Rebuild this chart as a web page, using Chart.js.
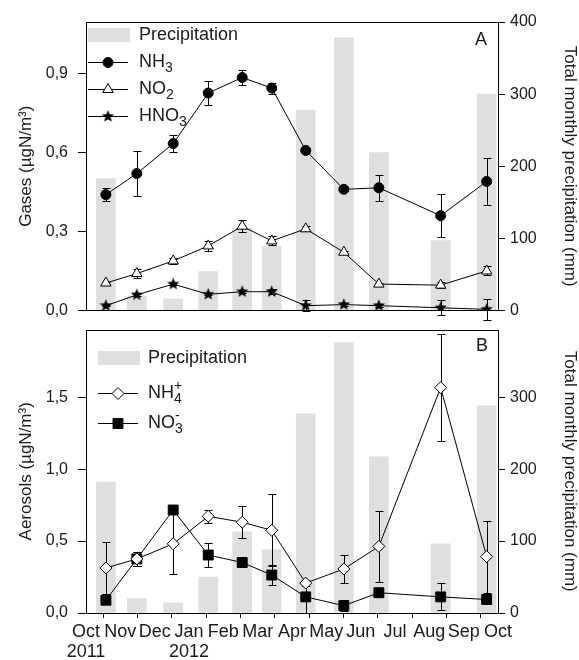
<!DOCTYPE html>
<html>
<head>
<meta charset="utf-8">
<script src="https://cdn.jsdelivr.net/npm/chart.js"></script>
<style>
  html, body { margin: 0; padding: 0; background: #fff; }
  #wrap { position: relative; width: 579px; height: 660px; }
  canvas { position: absolute; left: 0; }
  #chartA { top: 0; }
  #chartB { top: 310px; }
</style>
</head>
<body>
<div id="wrap">
  <canvas id="chartA" width="579" height="330"></canvas>
  <canvas id="chartB" width="579" height="350"></canvas>
</div>
<script>
// sampling dates, months after 1 Oct 2011
const sampleMonths = [0.58, 1.48, 2.54, 3.56, 4.55, 5.41, 6.40, 7.51, 8.53, 10.33, 11.67];
const monthLabels = ["Oct", "Nov", "Dec", "Jan", "Feb", "Mar", "Apr", "May", "Jun", "Jul", "Aug", "Sep", "Oct"];
const yearLabels = { 0: "2011", 3: "2012" };
const precipTicks = [0, 100, 200, 300, 400];

// total monthly precipitation (mm), as drawn in each panel
const precipA = [183, 20, 16, 54, 114, 89, 278, 378, 219, 97, 300];
const precipB = [182, 20, 14, 50, 113, 88, 277, 376, 217, 96, 288];

// gases (µgN/m3)
const nh3 = [0.44, 0.52, 0.634, 0.826, 0.885, 0.845, 0.608, 0.46, 0.466, 0.36, 0.49];
const nh3Err = [0.025, 0.086, 0.033, 0.044, 0.027, 0.021, 0.008, 0.008, 0.049, 0.082, 0.09];
const no2 = [0.104, 0.14, 0.188, 0.245, 0.32, 0.264, 0.31, 0.221, 0.1, 0.096, 0.15];
const no2Err = [0.004, 0.018, 0.01, 0.02, 0.023, 0.017, 0.01, 0.006, 0.006, 0.012, 0.017];
const hno3 = [0.018, 0.059, 0.1, 0.061, 0.071, 0.071, 0.018, 0.022, 0.018, 0.01, 0.004];
const hno3Err = [0.003, 0.005, 0.005, 0.004, 0.005, 0.01, 0.02, 0.005, 0.005, 0.028, 0.04];

// aerosols (µgN/m3)
const nh4 = [0.313, 0.376, 0.481, 0.672, 0.631, 0.575, 0.208, 0.306, 0.463, 1.567, 0.392];
const nh4Err = [0.18, 0.05, 0.21, 0.047, 0.113, 0.25, 0.02, 0.1, 0.246, 0.37, 0.25];
const no3 = [0.089, 0.376, 0.716, 0.403, 0.351, 0.264, 0.112, 0.051, 0.141, 0.112, 0.094];
const no3Err = [0.01, 0.05, 0.01, 0.082, 0.01, 0.067, 0.11, 0.04, 0.01, 0.094, 0.01];

const FONT = "'Liberation Sans', Arial, sans-serif";
const INK = "#1a1a1a";
const BAR_GRAY = "#dfdfdf";

Chart.defaults.font.family = FONT;
Chart.defaults.color = INK;

function pts(values) {
    return sampleMonths.map((x, i) => ({ x: x, y: values[i] }));
}

// filled five-point star used as a point image
function makeStar(r) {
    const c = document.createElement("canvas");
    c.width = c.height = Math.ceil(r * 2) + 2;
    const g = c.getContext("2d");
    const cx = c.width / 2, cy = c.height / 2;
    g.beginPath();
    for (let k = 0; k < 10; k++) {
        const rad = k % 2 === 0 ? r : r * 0.42;
        const a = -Math.PI / 2 + k * Math.PI / 5;
        g.lineTo(cx + rad * Math.cos(a), cy + rad * Math.sin(a));
    }
    g.closePath();
    g.fillStyle = "#000";
    g.fill();
    return c;
}
const starImg = makeStar(6.5);

// text with _x subscripts and ^x superscripts
function drawChem(ctx, label, x, y) {
    const big = "18px " + FONT, small = "14px " + FONT;
    const re = /([_^])(.)|([^_^]+)/g;
    let cx = x, subX = null, m;
    while ((m = re.exec(label))) {
        if (m[3]) {
            ctx.font = big;
            ctx.fillText(m[3], cx, y);
            cx += ctx.measureText(m[3]).width;
            subX = null;
        } else {
            ctx.font = small;
            const w = ctx.measureText(m[2]).width;
            if (m[1] === "_") {
                ctx.fillText(m[2], cx, y + 6);
                subX = cx;
                cx += w;
            } else {
                const sx = subX !== null ? subX : cx;
                ctx.fillText(m[2], sx, y - 7);
                cx = Math.max(cx, sx + w);
            }
        }
    }
}

// error bars: drawn right after the precipitation bars, below the lines
const errorBars = {
    id: "errorBars",
    afterDatasetDraw(chart, args) {
        if (args.meta.type !== "bar") return;
        const ctx = chart.ctx;
        ctx.save();
        ctx.strokeStyle = "#000";
        ctx.lineWidth = 1;
        chart.data.datasets.forEach((ds, i) => {
            if (!ds.errors) return;
            const meta = chart.getDatasetMeta(i);
            const ys = chart.scales[meta.yAxisID];
            meta.data.forEach((pt, j) => {
                const v = ds.data[j].y, e = ds.errors[j];
                const x = Math.round(pt.x) + 0.5;
                const y1 = Math.round(ys.getPixelForValue(v + e)) + 0.5;
                const y2 = Math.round(ys.getPixelForValue(v - e)) + 0.5;
                ctx.beginPath();
                ctx.moveTo(x, y1); ctx.lineTo(x, y2);
                ctx.moveTo(x - 4, y1); ctx.lineTo(x + 4, y1);
                ctx.moveTo(x - 4, y2); ctx.lineTo(x + 4, y2);
                ctx.stroke();
            });
        });
        ctx.restore();
    }
};

// frame round the plot, panel letter and the legend inside the plot
const panelDecor = {
    id: "panelDecor",
    afterDraw(chart, args, opts) {
        const { ctx, chartArea: a } = chart;
        ctx.save();
        ctx.strokeStyle = "#000";
        ctx.lineWidth = 1;
        ctx.strokeRect(Math.round(a.left) + 0.5, Math.round(a.top) + 0.5,
            Math.round(a.right - a.left), Math.round(a.bottom - a.top));

        ctx.fillStyle = INK;
        ctx.font = "18px " + FONT;
        ctx.textAlign = "center";
        ctx.textBaseline = "middle";
        ctx.fillText(opts.letter, a.right + opts.letterDx, a.top + opts.letterDy);

        ctx.textAlign = "left";
        chart.data.datasets.forEach((ds, i) => {
            const y = Math.round(a.top + opts.rows[i]);
            const x0 = a.left + opts.x;
            if (ds.type === "bar") {
                ctx.fillStyle = ds.backgroundColor;
                ctx.fillRect(x0, y - 7, 42, 14);
            } else {
                ctx.strokeStyle = "#000";
                ctx.lineWidth = 1;
                ctx.beginPath();
                ctx.moveTo(x0, y + 0.5);
                ctx.lineTo(x0 + 40, y + 0.5);
                ctx.stroke();
                ctx.fillStyle = ds.pointBackgroundColor;
                ctx.strokeStyle = ds.pointBorderColor;
                Chart.helpers.drawPoint(ctx, {
                    pointStyle: ds.pointStyle, radius: ds.pointRadius,
                    borderWidth: 1, rotation: 0
                }, x0 + 20, y + 0.5);
            }
            ctx.fillStyle = INK;
            drawChem(ctx, ds.label, x0 + opts.textDx, y);
        });
        ctx.restore();
    }
};

function comma1(v) {
    return v.toFixed(1).replace(".", ",");
}

function lineSet(label, values, errors, style, radius, fill) {
    return {
        type: "line",
        label: label,
        data: pts(values),
        errors: errors,
        yAxisID: "y",
        order: 1,
        borderColor: "#000",
        borderWidth: 1,
        pointStyle: style,
        pointRadius: radius,
        pointHoverRadius: radius,
        pointBackgroundColor: fill,
        pointBorderColor: "#000",
        pointBorderWidth: 1,
        fill: false,
        tension: 0
    };
}

function barSet(values) {
    return {
        type: "bar",
        label: "Precipitation",
        data: pts(values),
        yAxisID: "y2",
        order: 2,
        backgroundColor: BAR_GRAY,
        barThickness: 19,
        grouped: false
    };
}

function buildOptions(p) {
    return {
        responsive: false,
        animation: false,
        layout: { padding: p.padding },
        plugins: {
            legend: { display: false },
            tooltip: { enabled: false },
            panelDecor: p.decor
        },
        scales: {
            x: {
                type: "linear",
                min: 0,
                max: 12,
                offset: false,
                ticks: {
                    display: p.showX,
                    stepSize: 1,
                    autoSkip: false,
                    maxRotation: 0,
                    padding: 4,
                    color: INK,
                    font: { size: 18, lineHeight: 1.1 },
                    callback: v => yearLabels[v] ? [monthLabels[v], yearLabels[v]] : monthLabels[v]
                },
                grid: { display: p.showX, drawOnChartArea: false, tickLength: 5, color: "#000" },
                border: { display: false },
                afterFit: s => { s.height = p.xHeight; }
            },
            y: {
                position: "left",
                min: 0,
                max: p.yMax,
                ticks: { stepSize: p.yStep, includeBounds: false, padding: 10, color: INK, font: { size: 16 }, callback: comma1 },
                grid: { drawOnChartArea: false, tickLength: 8, color: "#000" },
                border: { display: false },
                title: { display: true, text: p.yTitle, color: INK, font: { size: 17, lineHeight: 1 }, padding: { top: 18, bottom: 0 } },
                afterFit: s => { s.width = 86; }
            },
            y2: {
                position: "right",
                min: 0,
                max: p.y2Max,
                ticks: { padding: 5, color: INK, font: { size: 16 } },
                afterBuildTicks: s => {
                    s.ticks = precipTicks.filter(v => v <= p.y2Max).map(v => ({ value: v }));
                },
                grid: { drawOnChartArea: false, tickLength: 7, color: "#000" },
                border: { display: false },
                title: { display: true, text: "Total monthly precipitation (mm)", color: INK, font: { size: 17, lineHeight: 1 }, padding: { top: 0.5, bottom: 0 } },
                afterFit: s => { s.width = 81; }
            }
        }
    };
}

// panel A: gases
new Chart(document.getElementById("chartA"), {
    type: "line",
    data: {
        datasets: [
            barSet(precipA),
            lineSet("NH_3", nh3, nh3Err, "circle", 5, "#000"),
            lineSet("NO_2", no2, no2Err, "triangle", 6, "#fff"),
            lineSet("HNO_3", hno3, hno3Err, starImg, 6, "#000")
        ]
    },
    options: buildOptions({
        padding: { top: 22, bottom: 10, left: 0, right: 0 },
        showX: false,
        xHeight: 0,
        yMax: 1.096,
        yStep: 0.3,
        yTitle: "Gases (µgN/m³)",
        y2Max: 400,
        decor: { letter: "A", letterDx: -17, letterDy: 18, x: 2, textDx: 51, rows: [13, 40, 67, 94] }
    }),
    plugins: [errorBars, panelDecor]
});

// panel B: aerosols
new Chart(document.getElementById("chartB"), {
    type: "line",
    data: {
        datasets: [
            barSet(precipB),
            lineSet("NH_4^+", nh4, nh4Err, "rectRot", 6, "#fff"),
            lineSet("NO_3^-", no3, no3Err, "rect", 7, "#000")
        ]
    },
    options: buildOptions({
        padding: { top: 10, bottom: 0, left: 0, right: 0 },
        showX: true,
        xHeight: 47,
        yMax: 1.97,
        yStep: 0.5,
        yTitle: "Aerosols (µgN/m³)",
        y2Max: 394,
        decor: { letter: "B", letterDx: -16, letterDy: 16, x: 12, textDx: 50, rows: [28, 63, 93] }
    }),
    plugins: [errorBars, panelDecor]
});
</script>
</body>
</html>
